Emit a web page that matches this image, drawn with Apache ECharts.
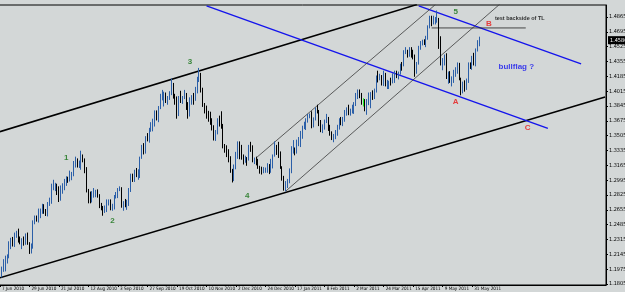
<!DOCTYPE html>
<html>
<head>
<meta charset="utf-8">
<script src="https://cdn.jsdelivr.net/npm/echarts@6/dist/echarts.min.js"></script>
<style>
  html, body { margin: 0; padding: 0; background: #d3d7d7; }
  #chart { width: 625px; height: 292px; }
</style>
</head>
<body>
<div id="chart"></div>
<script>
// EURUSD daily from 7 Jun 2010, one row per weekday: [open, close, low, high]
const candles = [
  [1.1965, 1.1920, 1.1876, 1.1975], [1.1920, 1.1980, 1.1880, 1.2005], [1.1980, 1.1990, 1.1945, 1.2090], [1.1990, 1.2110, 1.1950, 1.2130], [1.2110, 1.2110, 1.2040, 1.2145],
  [1.2110, 1.2215, 1.2100, 1.2295], [1.2215, 1.2315, 1.2205, 1.2335], [1.2315, 1.2275, 1.2235, 1.2345], [1.2275, 1.2385, 1.2230, 1.2395], [1.2385, 1.2385, 1.2335, 1.2415],
  [1.2385, 1.2325, 1.2280, 1.2440], [1.2325, 1.2285, 1.2260, 1.2350], [1.2285, 1.2310, 1.2205, 1.2330], [1.2310, 1.2300, 1.2245, 1.2350], [1.2300, 1.2375, 1.2255, 1.2385],
  [1.2375, 1.2270, 1.2255, 1.2395], [1.2270, 1.2200, 1.2150, 1.2285], [1.2200, 1.2230, 1.2155, 1.2270], [1.2230, 1.2515, 1.2210, 1.2535], [1.2515, 1.2565, 1.2490, 1.2590],
  [1.2565, 1.2540, 1.2520, 1.2590], [1.2540, 1.2625, 1.2510, 1.2670], [1.2625, 1.2630, 1.2560, 1.2670], [1.2630, 1.2690, 1.2610, 1.2725], [1.2690, 1.2640, 1.2610, 1.2720],
  [1.2640, 1.2610, 1.2585, 1.2665], [1.2610, 1.2730, 1.2580, 1.2745], [1.2730, 1.2750, 1.2700, 1.2795], [1.2750, 1.2935, 1.2725, 1.2955], [1.2935, 1.2935, 1.2880, 1.3000],
  [1.2935, 1.2940, 1.2870, 1.2965], [1.2940, 1.2890, 1.2825, 1.2955], [1.2890, 1.2765, 1.2745, 1.2925], [1.2765, 1.2905, 1.2760, 1.2935], [1.2905, 1.2910, 1.2840, 1.2960],
  [1.2910, 1.2985, 1.2880, 1.3010], [1.2985, 1.3000, 1.2930, 1.3040], [1.3000, 1.2990, 1.2965, 1.3035], [1.2990, 1.3050, 1.2980, 1.3105], [1.3050, 1.3060, 1.2995, 1.3090],
  [1.3060, 1.3190, 1.3040, 1.3215], [1.3190, 1.3230, 1.3140, 1.3265], [1.3230, 1.3155, 1.3140, 1.3245], [1.3155, 1.3185, 1.3135, 1.3220], [1.3185, 1.3275, 1.3115, 1.3333],
  [1.3275, 1.3220, 1.3200, 1.3290], [1.3220, 1.3140, 1.3075, 1.3245], [1.3140, 1.2870, 1.2855, 1.3145], [1.2870, 1.2825, 1.2730, 1.2895], [1.2825, 1.2760, 1.2730, 1.2865],
  [1.2760, 1.2830, 1.2740, 1.2870], [1.2830, 1.2870, 1.2795, 1.2905], [1.2870, 1.2870, 1.2800, 1.2885], [1.2870, 1.2820, 1.2795, 1.2890], [1.2820, 1.2710, 1.2675, 1.2835],
  [1.2710, 1.2665, 1.2650, 1.2735], [1.2665, 1.2650, 1.2588, 1.2700], [1.2650, 1.2660, 1.2620, 1.2705], [1.2660, 1.2730, 1.2630, 1.2775], [1.2730, 1.2760, 1.2705, 1.2775],
  [1.2760, 1.2665, 1.2650, 1.2775], [1.2665, 1.2685, 1.2645, 1.2725], [1.2685, 1.2815, 1.2660, 1.2825], [1.2815, 1.2825, 1.2785, 1.2860], [1.2825, 1.2890, 1.2790, 1.2905],
  [1.2890, 1.2905, 1.2870, 1.2925], [1.2905, 1.2695, 1.2680, 1.2915], [1.2695, 1.2730, 1.2645, 1.2755], [1.2730, 1.2705, 1.2685, 1.2780], [1.2705, 1.2705, 1.2655, 1.2770],
  [1.2705, 1.2880, 1.2700, 1.2905], [1.2880, 1.3050, 1.2860, 1.3070], [1.3050, 1.3000, 1.2975, 1.3070], [1.3000, 1.3065, 1.2975, 1.3115], [1.3065, 1.3050, 1.3030, 1.3135],
  [1.3050, 1.3060, 1.3000, 1.3120], [1.3060, 1.3245, 1.3020, 1.3265], [1.3245, 1.3380, 1.3240, 1.3400], [1.3380, 1.3320, 1.3290, 1.3420], [1.3320, 1.3490, 1.3300, 1.3500],
  [1.3490, 1.3470, 1.3440, 1.3535], [1.3470, 1.3585, 1.3425, 1.3595], [1.3585, 1.3620, 1.3550, 1.3660], [1.3620, 1.3635, 1.3555, 1.3700], [1.3635, 1.3785, 1.3610, 1.3795],
  [1.3785, 1.3690, 1.3680, 1.3795], [1.3690, 1.3830, 1.3660, 1.3845], [1.3830, 1.3940, 1.3810, 1.3985], [1.3940, 1.3950, 1.3910, 1.4030], [1.3950, 1.3990, 1.3840, 1.4010],
  [1.3990, 1.3920, 1.3880, 1.4000], [1.3920, 1.3930, 1.3860, 1.3960], [1.3930, 1.3990, 1.3915, 1.4015], [1.3990, 1.4090, 1.3970, 1.4160], [1.4090, 1.3975, 1.3930, 1.4110],
  [1.3975, 1.3925, 1.3860, 1.3985], [1.3925, 1.3735, 1.3700, 1.3955], [1.3735, 1.3945, 1.3730, 1.3960], [1.3945, 1.3935, 1.3880, 1.4020], [1.3935, 1.3950, 1.3870, 1.3960],
  [1.3950, 1.3985, 1.3925, 1.4030], [1.3985, 1.3865, 1.3800, 1.3995], [1.3865, 1.3765, 1.3700, 1.3890], [1.3765, 1.3900, 1.3725, 1.3945], [1.3900, 1.3945, 1.3860, 1.3970],
  [1.3945, 1.3915, 1.3860, 1.3995], [1.3915, 1.4050, 1.3905, 1.4065], [1.4050, 1.4125, 1.3990, 1.4180], [1.4125, 1.4210, 1.4120, 1.4282], [1.4210, 1.4025, 1.4000, 1.4225],
  [1.4025, 1.3860, 1.3835, 1.4055], [1.3860, 1.3835, 1.3760, 1.3880], [1.3835, 1.3770, 1.3700, 1.3850], [1.3770, 1.3730, 1.3665, 1.3790], [1.3730, 1.3690, 1.3630, 1.3780],
  [1.3690, 1.3590, 1.3565, 1.3705], [1.3590, 1.3500, 1.3450, 1.3625], [1.3500, 1.3535, 1.3445, 1.3570], [1.3535, 1.3675, 1.3520, 1.3705], [1.3675, 1.3670, 1.3610, 1.3735],
  [1.3670, 1.3625, 1.3585, 1.3785], [1.3625, 1.3380, 1.3360, 1.3640], [1.3380, 1.3370, 1.3310, 1.3410], [1.3370, 1.3325, 1.3260, 1.3395], [1.3325, 1.3225, 1.3200, 1.3350],
  [1.3225, 1.3120, 1.3080, 1.3270], [1.3120, 1.2985, 1.2969, 1.3125], [1.2985, 1.3145, 1.2985, 1.3175], [1.3145, 1.3300, 1.3120, 1.3320], [1.3300, 1.3415, 1.3240, 1.3440],
  [1.3415, 1.3270, 1.3235, 1.3440], [1.3270, 1.3255, 1.3230, 1.3400], [1.3255, 1.3240, 1.3175, 1.3290], [1.3240, 1.3245, 1.3195, 1.3275], [1.3245, 1.3225, 1.3160, 1.3260],
  [1.3225, 1.3385, 1.3220, 1.3400], [1.3385, 1.3380, 1.3320, 1.3435], [1.3380, 1.3225, 1.3200, 1.3395], [1.3225, 1.3235, 1.3180, 1.3255], [1.3235, 1.3180, 1.3165, 1.3265],
  [1.3180, 1.3140, 1.3125, 1.3240], [1.3140, 1.3125, 1.3070, 1.3160], [1.3125, 1.3105, 1.3060, 1.3150], [1.3105, 1.3110, 1.3075, 1.3145], [1.3110, 1.3125, 1.3080, 1.3140],
  [1.3125, 1.3165, 1.3080, 1.3190], [1.3165, 1.3090, 1.3065, 1.3180], [1.3090, 1.3225, 1.3080, 1.3240], [1.3225, 1.3280, 1.3130, 1.3290], [1.3280, 1.3380, 1.3265, 1.3440],
  [1.3380, 1.3365, 1.3285, 1.3400], [1.3365, 1.3305, 1.3250, 1.3435], [1.3305, 1.3150, 1.3125, 1.3325], [1.3150, 1.3025, 1.2990, 1.3155], [1.3025, 1.2910, 1.2875, 1.3045],
  [1.2910, 1.2960, 1.2867, 1.2985], [1.2960, 1.2970, 1.2905, 1.3010], [1.2970, 1.3110, 1.2960, 1.3130], [1.3110, 1.3365, 1.3075, 1.3385], [1.3365, 1.3380, 1.3300, 1.3455],
  [1.3380, 1.3310, 1.3280, 1.3370], [1.3310, 1.3450, 1.3300, 1.3460], [1.3450, 1.3465, 1.3385, 1.3490], [1.3465, 1.3505, 1.3375, 1.3560], [1.3505, 1.3610, 1.3470, 1.3620],
  [1.3610, 1.3625, 1.3580, 1.3665], [1.3625, 1.3680, 1.3570, 1.3705], [1.3680, 1.3730, 1.3655, 1.3755], [1.3730, 1.3770, 1.3705, 1.3760], [1.3770, 1.3600, 1.3590, 1.3785],
  [1.3600, 1.3690, 1.3600, 1.3715], [1.3690, 1.3800, 1.3680, 1.3830], [1.3800, 1.3785, 1.3760, 1.3860], [1.3785, 1.3640, 1.3615, 1.3800], [1.3640, 1.3580, 1.3545, 1.3685],
  [1.3580, 1.3615, 1.3535, 1.3635], [1.3615, 1.3670, 1.3575, 1.3690], [1.3670, 1.3705, 1.3650, 1.3755], [1.3705, 1.3580, 1.3560, 1.3720], [1.3580, 1.3530, 1.3505, 1.3630],
  [1.3530, 1.3470, 1.3455, 1.3555], [1.3470, 1.3500, 1.3430, 1.3525], [1.3500, 1.3545, 1.3465, 1.3570], [1.3545, 1.3605, 1.3505, 1.3630], [1.3605, 1.3690, 1.3575, 1.3705],
  [1.3690, 1.3675, 1.3625, 1.3720], [1.3675, 1.3690, 1.3615, 1.3720], [1.3690, 1.3775, 1.3665, 1.3800], [1.3775, 1.3800, 1.3735, 1.3830], [1.3800, 1.3755, 1.3740, 1.3860],
  [1.3755, 1.3800, 1.3735, 1.3815], [1.3800, 1.3805, 1.3760, 1.3860], [1.3805, 1.3875, 1.3755, 1.3890], [1.3875, 1.3980, 1.3845, 1.3995], [1.3980, 1.3985, 1.3925, 1.4035],
  [1.3985, 1.3975, 1.3935, 1.4035], [1.3975, 1.3900, 1.3860, 1.3995], [1.3900, 1.3910, 1.3840, 1.3935], [1.3910, 1.3805, 1.3785, 1.3925], [1.3805, 1.3905, 1.3745, 1.3925],
  [1.3905, 1.3985, 1.3855, 1.4000], [1.3985, 1.3990, 1.3820, 1.4005], [1.3990, 1.3945, 1.3915, 1.4025], [1.3945, 1.4025, 1.3925, 1.4045], [1.4025, 1.4180, 1.4000, 1.4195],
  [1.4180, 1.4165, 1.4115, 1.4250], [1.4165, 1.4205, 1.4140, 1.4215], [1.4205, 1.4130, 1.4080, 1.4200], [1.4130, 1.4215, 1.4075, 1.4250], [1.4215, 1.4090, 1.4070, 1.4225],
  [1.4090, 1.4105, 1.4040, 1.4145], [1.4105, 1.4125, 1.4040, 1.4135], [1.4125, 1.4105, 1.4080, 1.4170], [1.4105, 1.4160, 1.4105, 1.4220], [1.4160, 1.4235, 1.4110, 1.4250],
  [1.4235, 1.4210, 1.4165, 1.4250], [1.4210, 1.4225, 1.4150, 1.4240], [1.4225, 1.4315, 1.4205, 1.4330], [1.4315, 1.4310, 1.4250, 1.4350], [1.4310, 1.4480, 1.4300, 1.4485],
  [1.4480, 1.4480, 1.4440, 1.4520], [1.4480, 1.4475, 1.4400, 1.4490], [1.4475, 1.4500, 1.4410, 1.4520], [1.4500, 1.4475, 1.4400, 1.4520], [1.4475, 1.4430, 1.4380, 1.4490],
  [1.4430, 1.4235, 1.4180, 1.4435], [1.4235, 1.4335, 1.4215, 1.4350], [1.4335, 1.4515, 1.4320, 1.4535], [1.4515, 1.4560, 1.4490, 1.4590], [1.4560, 1.4580, 1.4540, 1.4605],
  [1.4580, 1.4575, 1.4545, 1.4610], [1.4575, 1.4625, 1.4520, 1.4650], [1.4625, 1.4760, 1.4605, 1.4770], [1.4760, 1.4815, 1.4735, 1.4880], [1.4815, 1.4805, 1.4760, 1.4880],
  [1.4805, 1.4825, 1.4780, 1.4880], [1.4825, 1.4830, 1.4780, 1.4865], [1.4830, 1.4830, 1.4800, 1.4940], [1.4830, 1.4535, 1.4500, 1.4855], [1.4535, 1.4315, 1.4310, 1.4645],
  [1.4315, 1.4340, 1.4255, 1.4395], [1.4340, 1.4395, 1.4310, 1.4435], [1.4395, 1.4175, 1.4155, 1.4450], [1.4175, 1.4215, 1.4100, 1.4240], [1.4215, 1.4120, 1.4110, 1.4245],
  [1.4120, 1.4140, 1.4070, 1.4185], [1.4140, 1.4235, 1.4110, 1.4260], [1.4235, 1.4235, 1.4180, 1.4290], [1.4235, 1.4315, 1.4215, 1.4345], [1.4315, 1.4160, 1.4140, 1.4340],
  [1.4160, 1.4005, 1.3968, 1.4170], [1.4005, 1.4090, 1.3990, 1.4125], [1.4090, 1.4075, 1.4010, 1.4140], [1.4075, 1.4115, 1.4030, 1.4160], [1.4115, 1.4320, 1.4110, 1.4345],
  [1.4320, 1.4300, 1.4270, 1.4345], [1.4300, 1.4400, 1.4260, 1.4420], [1.4400, 1.4385, 1.4310, 1.4455], [1.4385, 1.4495, 1.4300, 1.4505], [1.4495, 1.4575, 1.4470, 1.4600],
  [1.4575, 1.4580, 1.4530, 1.4640]
];
const firstDay = '2010-06-07';
const totalBars = 329;            // weekdays on the axis, incl. the empty shift on the right
const labelEvery = 16;            // bars between date labels
const greenBars = ['2011-03-09'];
const priceMin = 1.1794;
const priceMax = 1.5003;
const yTicks = [1.18050, 1.19750, 1.21450, 1.23150, 1.24850, 1.26550, 1.28250, 1.29950, 1.31650, 1.33350,
  1.35050, 1.36750, 1.38450, 1.40150, 1.41850, 1.43550, 1.45250, 1.46950, 1.48650];

// drawn trendlines: [date, price] end points
const upperBlack = [['2010-06-07', 1.3551], ['2011-04-19', 1.5008]];
const lowerBlack = [['2010-06-07', 1.1877], ['2011-09-08', 1.3949]];
const lowerBlue = [['2010-11-10', 1.4993], ['2011-07-27', 1.3590]];
const upperBlue = [['2011-04-20', 1.4993], ['2011-08-22', 1.4329]];
const thinUpper = [['2010-12-17', 1.3253], ['2011-05-03', 1.5007]];
const thinLower = [['2011-01-10', 1.2871], ['2011-06-21', 1.5014]];
const flatLine = [['2011-04-29', 1.4740], ['2011-07-11', 1.4740]];

// text notes: [text, date, price]
const waveLabels = [['1', '2010-07-27', 1.3249], ['2', '2010-08-31', 1.2527], ['3', '2010-10-28', 1.4350],
  ['4', '2010-12-10', 1.2814], ['5', '2011-05-18', 1.4923]];
const abcLabels = [['A', '2011-05-18', 1.3891], ['B', '2011-06-13', 1.4785], ['C', '2011-07-12', 1.3593]];
const notes = [['test backside of TL', '2011-06-16', 1.4854, '#000000', 5.5], ['bullflag ?', '2011-06-20', 1.4292, '#1010f0', 8]];

const MONTHS = ['Jan', 'Feb', 'Mar', 'Apr', 'May', 'Jun', 'Jul', 'Aug', 'Sep', 'Oct', 'Nov', 'Dec'];

// weekday calendar for the category axis
let dates = [];
let d = new Date(firstDay + 'T00:00:00Z');
while (dates.length < totalBars) {
    let wd = d.getUTCDay();
    if (wd !== 0 && wd !== 6) dates.push(d.toISOString().slice(0, 10));
    d.setUTCDate(d.getUTCDate() + 1);
}

function fmtDate (s) {
    let p = s.split('-');
    return parseInt(p[2], 10) + ' ' + MONTHS[parseInt(p[1], 10) - 1] + ' ' + p[0];
}

function showTick (i) {
    return i % labelEvery === 0 && i < candles.length;
}

let candleData = candles.map(function (c, i) {
    if (greenBars.indexOf(dates[i]) >= 0) {
        return { value: c, itemStyle: { color: '#22ee22', color0: '#22ee22', borderColor: '#22ee22', borderColor0: '#22ee22' } };
    }
    return c;
});

const FONT = 'Arial, "Liberation Sans", sans-serif';
const NARROW = '"Liberation Sans Narrow", "DejaVu Sans Condensed", "Arial Narrow", sans-serif';

function trendLine (pts, color, width) {
    return {
        type: 'line',
        data: pts,
        symbol: 'none',
        silent: true,
        clip: true,
        lineStyle: { color: color, width: width },
        z: 3
    };
}

function textSeries (items, color, size) {
    return {
        type: 'scatter',
        symbolSize: 1,
        itemStyle: { color: 'transparent' },
        silent: true,
        z: 5,
        data: items.map(function (t) { return { name: t[0], value: [t[1], t[2]] }; }),
        label: {
            show: true,
            position: 'inside',
            formatter: '{b}',
            color: color,
            fontSize: size,
            fontWeight: 'bold',
            fontFamily: FONT
        }
    };
}

let lastClose = candles[candles.length - 1][1];

let chart = echarts.init(document.getElementById('chart'));
chart.setOption({
    animation: false,
    backgroundColor: '#d3d7d7',
    grid: {
        left: -1,
        right: 19,
        top: 5,
        bottom: 7,
        outerBoundsMode: 'none',
        containLabel: false,
        show: true,
        borderColor: '#000',
        borderWidth: 1,
        backgroundColor: '#d3d7d7'
    },
    xAxis: {
        type: 'category',
        data: dates,
        boundaryGap: true,
        axisLine: { show: true, lineStyle: { color: '#000', width: 1 } },
        axisTick: { show: true, alignWithLabel: true, interval: showTick, length: 2, lineStyle: { color: '#000' } },
        axisLabel: {
            interval: showTick,
            formatter: fmtDate,
            fontSize: 4.6,
            color: '#000',
            fontFamily: NARROW,
            align: 'left',
            margin: 1.5,
            padding: [0, 0, 0, 2]
        },
        splitLine: { show: false }
    },
    yAxis: {
        type: 'value',
        position: 'right',
        min: priceMin,
        max: priceMax,
        scale: true,
        axisLine: { show: true, lineStyle: { color: '#000', width: 1 } },
        axisTick: { show: true, length: 2, customValues: yTicks, lineStyle: { color: '#000' } },
        axisLabel: {
            customValues: yTicks,
            formatter: function (v) { return v.toFixed(5); },
            fontSize: 5.5,
            color: '#000',
            fontFamily: NARROW,
            margin: 3
        },
        splitLine: { show: false }
    },
    series: [
        {
            type: 'candlestick',
            data: candleData,
            barWidth: 1.2,
            z: 4,
            itemStyle: {
                color: '#3c78c8',
                color0: '#000000',
                borderColor: '#2b5fa8',
                borderColor0: '#000000',
                borderWidth: 1
            },
            markLine: {
                silent: true,
                symbol: 'none',
                lineStyle: { width: 0, color: 'rgba(0,0,0,0)' },
                data: [{ yAxis: lastClose }],
                label: {
                    show: true,
                    position: 'end',
                    distance: 2,
                    formatter: function () { return lastClose.toFixed(5); },
                    backgroundColor: '#000',
                    color: '#fff',
                    opacity: 1,
                    fontSize: 5.5,
                    fontFamily: NARROW,
                    padding: [1, 2]
                }
            }
        },
        trendLine(upperBlack, '#000000', 1.6),
        trendLine(lowerBlack, '#000000', 1.6),
        trendLine(lowerBlue, '#1414ec', 1.4),
        trendLine(upperBlue, '#1414ec', 1.4),
        trendLine(thinUpper, '#3a3a3a', 0.8),
        trendLine(thinLower, '#3a3a3a', 0.8),
        trendLine(flatLine, '#202020', 0.8),
        textSeries(waveLabels, '#127012', 8),
        textSeries(abcLabels, '#e81414', 8),
        {
            type: 'scatter',
            symbolSize: 1,
            itemStyle: { color: 'transparent' },
            silent: true,
            z: 5,
            data: notes.map(function (t) {
                return {
                    name: t[0],
                    value: [t[1], t[2]],
                    label: { color: t[3], fontSize: t[4] }
                };
            }),
            label: {
                show: true,
                position: 'right',
                distance: 0,
                formatter: '{b}',
                fontWeight: 'bold',
                fontFamily: FONT
            }
        }
    ]
});
</script>
</body>
</html>
